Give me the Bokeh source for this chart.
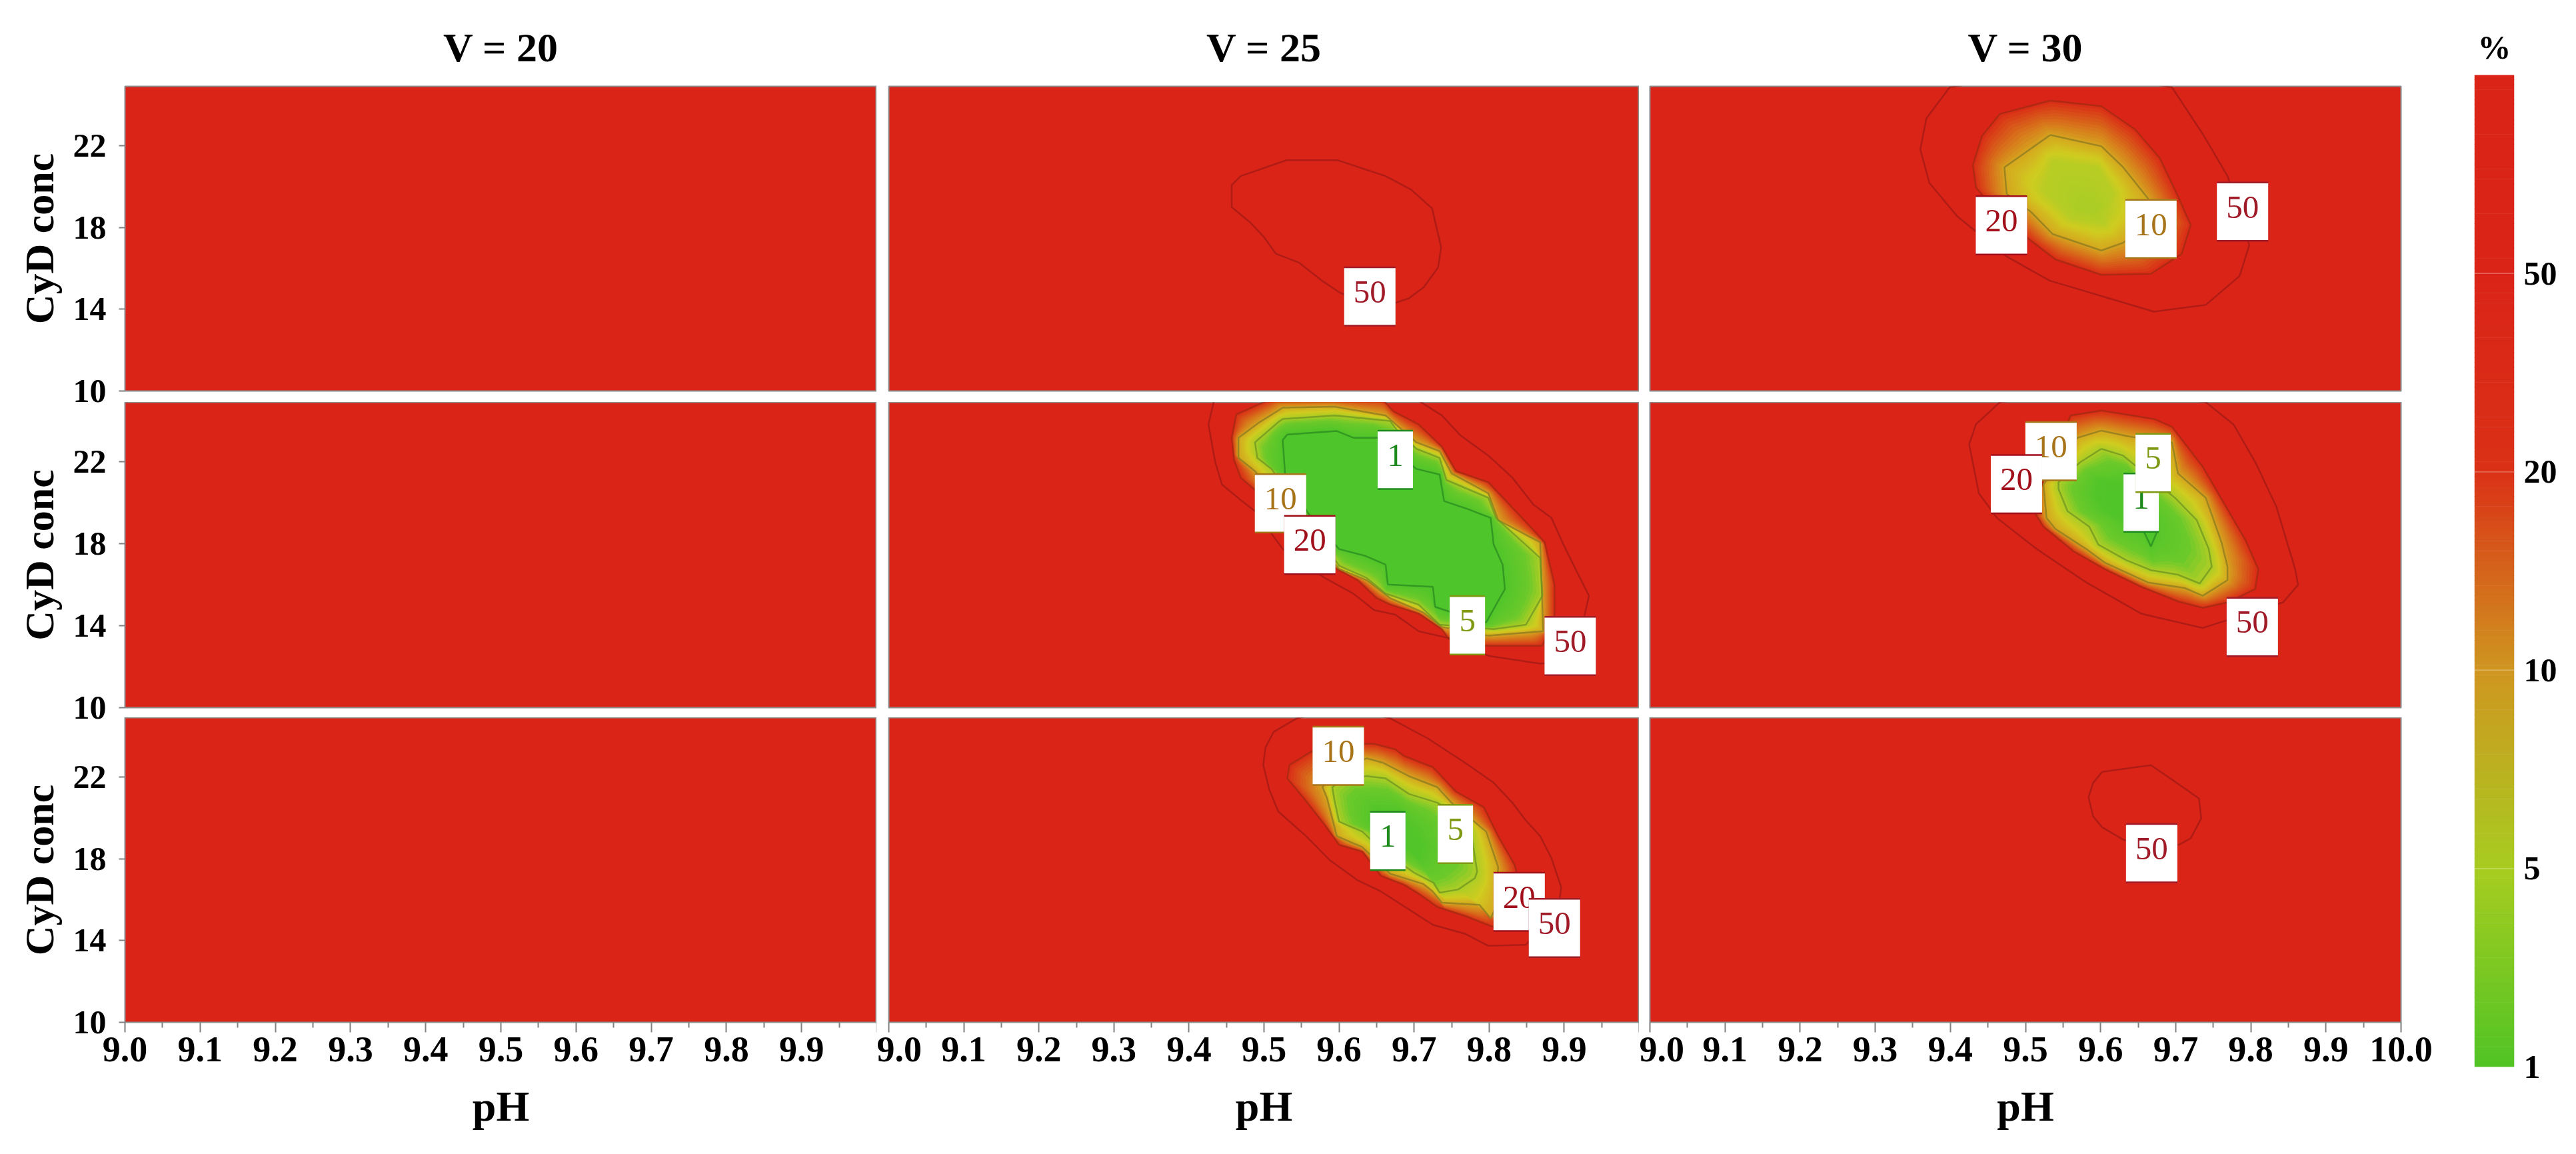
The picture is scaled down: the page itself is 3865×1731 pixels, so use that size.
import math
import numpy as np
from bokeh.embed import file_html
from bokeh.resources import INLINE
from bokeh.core.properties import value
from bokeh.layouts import column, row
from bokeh.models import FixedTicker, Label, Range1d
from bokeh.plotting import figure

VOLTAGES = [20, 25, 30]
BUFFERS = [30, 25, 20]
LEVELS = [1, 5, 10, 20, 50, 100]
BAR_COLORS = ["#50c424", "#a8cc20", "#cf9620", "#da3116", "#da2418", "#da2418"]
X_TICKS = [9.0, 9.1, 9.2, 9.3, 9.4, 9.5, 9.6, 9.7, 9.8, 9.9, 10.0]
X_MINOR = [9.05, 9.15, 9.25, 9.35, 9.45, 9.55, 9.65, 9.75, 9.85, 9.95]
Y_TICKS = [10, 14, 18, 22]

# V = 25, Buffer = 30
V25B30_L50_PH = [9.530, 9.598, 9.662, 9.696, 9.724, 9.736, 9.732, 9.713, 9.693, 9.649, 9.601, 9.577, 9.547, 9.516, 9.499, 9.482, 9.457, 9.457, 9.469]
V25B30_L50_CY = [21.29, 21.29, 20.51, 19.85, 18.93, 17.03, 16.05, 15.08, 14.53, 13.99, 14.81, 15.40, 16.27, 16.71, 17.57, 18.23, 18.99, 20.07, 20.51]
V25B30_LAB = ["50"]
V25B30_LAB_PH = [9.641]
V25B30_LAB_CY = [14.62]

# V = 30, Buffer = 20
V30B20_L50_PH = [9.602, 9.667, 9.699, 9.731, 9.734, 9.720, 9.705, 9.673, 9.630, 9.602, 9.590, 9.584, 9.590]
V30B20_L50_CY = [22.25, 22.58, 21.77, 20.95, 19.97, 19.00, 18.70, 18.35, 18.94, 19.54, 20.08, 21.01, 21.71]
V30B20_LAB = ["50"]
V30B20_LAB_PH = [9.668]
V30B20_LAB_CY = [18.27]

# V = 25, Buffer = 25
V25B25_L1_PH = [9.531, 9.597, 9.619, 9.653, 9.703, 9.734, 9.740, 9.771, 9.802, 9.806, 9.818, 9.821, 9.806, 9.796, 9.746, 9.728, 9.725, 9.665, 9.662, 9.634, 9.600, 9.559, 9.528, 9.525]
V25B25_L1_CY = [23.33, 23.50, 23.17, 23.17, 21.65, 21.38, 20.08, 19.70, 19.26, 17.96, 16.98, 15.79, 14.81, 14.16, 14.70, 14.92, 15.90, 16.01, 16.98, 17.42, 17.74, 19.48, 21.43, 23.06]
V25B25_L5_PH = [9.519, 9.525, 9.594, 9.668, 9.678, 9.703, 9.734, 9.743, 9.799, 9.809, 9.868, 9.871, 9.849, 9.806, 9.734, 9.706, 9.662, 9.637, 9.600, 9.510, 9.491, 9.488]
V25B25_L5_CY = [23.93, 24.09, 24.26, 23.99, 23.50, 22.63, 22.19, 21.11, 20.24, 19.26, 17.31, 15.46, 14.05, 13.83, 14.05, 15.03, 15.57, 16.33, 16.93, 21.65, 22.19, 22.95]
V25B25_L10_PH = [9.494, 9.525, 9.594, 9.662, 9.703, 9.734, 9.750, 9.799, 9.812, 9.868, 9.872, 9.799, 9.737, 9.712, 9.668, 9.637, 9.600, 9.488, 9.466, 9.466]
V25B25_L10_CY = [23.93, 24.64, 24.69, 24.26, 22.95, 22.52, 21.43, 20.46, 19.15, 18.07, 13.73, 13.51, 13.94, 14.65, 15.35, 16.22, 16.77, 21.54, 22.19, 23.17]
V25B25_L20_PH = [9.463, 9.500, 9.513, 9.656, 9.672, 9.706, 9.737, 9.756, 9.799, 9.855, 9.874, 9.887, 9.887, 9.871, 9.793, 9.746, 9.737, 9.706, 9.668, 9.650, 9.625, 9.597, 9.569, 9.500, 9.469, 9.460, 9.457]
V25B25_L20_CY = [24.31, 24.91, 25.13, 25.13, 24.47, 23.82, 22.74, 21.54, 21.00, 18.83, 18.07, 16.00, 14.48, 13.02, 13.02, 13.35, 13.83, 14.59, 15.03, 15.35, 16.22, 16.77, 17.53, 20.24, 21.22, 22.09, 23.17]
V25B25_L50_PH = [9.435, 9.426, 9.435, 9.444, 9.469, 9.488, 9.525, 9.581, 9.619, 9.647, 9.675, 9.706, 9.746, 9.799, 9.868, 9.918, 9.927, 9.933, 9.918, 9.899, 9.883, 9.859, 9.831, 9.799, 9.762, 9.737, 9.709, 9.687]
V25B25_L50_CY = [25.23, 23.82, 21.98, 20.89, 20.13, 19.59, 17.74, 16.33, 15.57, 14.76, 14.54, 13.73, 13.40, 12.53, 12.15, 12.31, 14.48, 15.46, 16.55, 17.96, 19.26, 19.91, 21.22, 22.30, 23.28, 24.26, 24.91, 25.34]
V25B25_LAB = ["1", "10", "20", "5", "50"]
V25B25_LAB_PH = [9.675, 9.522, 9.561, 9.771, 9.908]
V25B25_LAB_CY = [22.09, 19.97, 17.94, 14.02, 13.01]

# V = 25, Buffer = 20
V25B20_L1_PH = [9.650, 9.681, 9.712, 9.706, 9.675, 9.647]
V25B20_L1_CY = [20.41, 20.31, 18.68, 18.03, 19.00, 19.76]
V25B20_L5_PH = [9.637, 9.662, 9.693, 9.731, 9.774, 9.784, 9.781, 9.759, 9.734, 9.726, 9.700, 9.656, 9.631, 9.600, 9.594, 9.591, 9.606]
V25B20_L5_CY = [22.04, 21.93, 21.17, 20.74, 19.76, 17.37, 17.05, 16.50, 16.34, 16.83, 17.32, 18.46, 19.33, 19.82, 20.85, 21.50, 21.93]
V25B20_L10_PH = [9.637, 9.659, 9.693, 9.731, 9.750, 9.796, 9.812, 9.809, 9.802, 9.787, 9.737, 9.725, 9.712, 9.668, 9.631, 9.597, 9.584, 9.578, 9.594]
V25B20_L10_CY = [22.91, 22.69, 22.04, 21.50, 20.74, 19.33, 17.59, 15.64, 15.09, 15.75, 15.85, 16.40, 16.77, 17.27, 18.57, 19.11, 20.96, 21.50, 22.37]
V25B20_L20_PH = [9.647, 9.675, 9.687, 9.725, 9.756, 9.793, 9.812, 9.834, 9.837, 9.843, 9.806, 9.768, 9.731, 9.706, 9.687, 9.656, 9.631, 9.600, 9.581, 9.553, 9.531, 9.534, 9.563, 9.619]
V25B20_L20_CY = [23.62, 23.35, 23.02, 22.48, 21.28, 20.52, 19.11, 17.70, 17.27, 15.75, 14.66, 15.20, 15.64, 16.29, 16.72, 17.16, 18.35, 18.68, 19.65, 20.96, 21.93, 22.59, 23.24, 23.62]
V25B20_L50_PH = [9.606, 9.544, 9.513, 9.502, 9.499, 9.507, 9.519, 9.556, 9.588, 9.625, 9.656, 9.725, 9.768, 9.799, 9.849, 9.893, 9.896, 9.883, 9.868, 9.849, 9.831, 9.806, 9.768, 9.718, 9.668]
V25B20_L50_CY = [25.41, 24.87, 24.21, 23.45, 22.59, 21.39, 20.31, 19.11, 17.92, 16.94, 16.40, 14.77, 14.33, 13.74, 13.79, 15.75, 16.61, 18.03, 19.11, 19.87, 20.74, 21.72, 22.69, 23.89, 24.87]
V25B20_LAB = ["10", "1", "5", "20", "50"]
V25B20_LAB_PH = [9.599, 9.665, 9.755, 9.840, 9.887]
V25B20_LAB_CY = [23.03, 18.87, 19.21, 15.89, 14.61]

# V = 30, Buffer = 25
V30B25_L1_PH = [9.654, 9.671, 9.675, 9.667, 9.658, 9.642]
V30B25_L1_CY = [20.89, 20.67, 18.56, 17.87, 18.56, 19.81]
V30B25_C13_PH = [9.597, 9.646, 9.675, 9.667, 9.658, 9.605, 9.593]
V30B25_C13_CY = [21.11, 20.89, 18.56, 17.87, 18.56, 19.59, 20.35]
V30B25_L5_PH = [9.601, 9.630, 9.699, 9.728, 9.744, 9.748, 9.732, 9.703, 9.667, 9.634, 9.597, 9.585, 9.556, 9.544, 9.544, 9.573]
V30B25_L5_CY = [22.63, 22.30, 20.24, 19.15, 17.74, 16.87, 16.06, 16.49, 16.71, 17.20, 17.96, 18.83, 19.59, 20.67, 21.00, 21.98]
V30B25_L10_PH = [9.601, 9.638, 9.695, 9.703, 9.740, 9.761, 9.769, 9.769, 9.736, 9.712, 9.663, 9.605, 9.581, 9.540, 9.528, 9.524, 9.569]
V30B25_L10_CY = [23.52, 23.23, 22.95, 21.43, 20.24, 18.07, 16.87, 16.22, 15.46, 15.84, 16.11, 17.09, 17.74, 18.72, 19.26, 20.89, 23.17]
V30B25_L20_PH = [9.601, 9.671, 9.695, 9.736, 9.793, 9.810, 9.806, 9.769, 9.736, 9.703, 9.654, 9.605, 9.564, 9.524, 9.511, 9.524, 9.560]
V30B25_L20_CY = [24.50, 24.09, 23.71, 21.76, 18.17, 16.76, 15.79, 15.14, 14.87, 15.19, 15.90, 16.77, 17.63, 18.83, 19.59, 21.11, 24.26]
V30B25_L50_PH = [9.605, 9.466, 9.434, 9.425, 9.438, 9.462, 9.515, 9.581, 9.654, 9.736, 9.843, 9.863, 9.859, 9.834, 9.806, 9.777, 9.740]
V30B25_L50_CY = [25.56, 24.91, 23.82, 22.85, 20.46, 19.26, 17.74, 16.11, 14.59, 13.89, 15.14, 16.00, 16.76, 19.81, 21.98, 23.82, 24.91]
V30B25_LAB = ["10", "20", "1", "5", "50"]
V30B25_LAB_PH = [9.534, 9.488, 9.654, 9.670, 9.802]
V30B25_LAB_CY = [22.52, 20.91, 20.00, 21.94, 13.94]

# V = 30, Buffer = 30
V30B30_C52_PH = [9.577, 9.601, 9.589, 9.571]
V30B30_C52_CY = [19.26, 19.04, 18.77, 18.90]
V30B30_C6_PH = [9.536, 9.597, 9.618, 9.605, 9.560, 9.524]
V30B30_C6_CY = [21.27, 20.94, 19.64, 18.12, 18.44, 19.75]
V30B30_L10_PH = [9.533, 9.601, 9.630, 9.663, 9.671, 9.630, 9.601, 9.536, 9.507, 9.475, 9.472]
V30B30_L10_CY = [22.52, 21.97, 20.94, 19.42, 18.44, 17.25, 16.87, 17.68, 18.77, 19.64, 20.94]
V30B30_L20_PH = [9.533, 9.601, 9.646, 9.679, 9.703, 9.720, 9.708, 9.667, 9.601, 9.540, 9.507, 9.466, 9.434, 9.430, 9.442, 9.466]
V30B30_L20_CY = [24.20, 23.93, 22.79, 21.38, 19.53, 18.12, 16.71, 15.73, 15.68, 16.43, 17.36, 18.55, 19.96, 21.05, 22.46, 23.55]
V30B30_L50_PH = [9.548, 9.399, 9.368, 9.360, 9.372, 9.409, 9.474, 9.532, 9.671, 9.740, 9.785, 9.798, 9.769, 9.736, 9.695]
V30B30_L50_CY = [25.72, 24.85, 23.33, 21.81, 20.18, 18.55, 16.60, 15.40, 13.88, 14.21, 15.62, 17.14, 20.51, 22.57, 24.85]
V30B30_LAB = ["20", "10", "50"]
V30B30_LAB_PH = [9.468, 9.667, 9.789]
V30B30_LAB_CY = [18.10, 17.92, 18.77]

# (level, ph, cyd, draw the contour line) from the outermost in
PANELS = {
    (25, 30): ([(50, V25B30_L50_PH, V25B30_L50_CY, True)], V25B30_LAB, V25B30_LAB_PH, V25B30_LAB_CY),
    (30, 20): ([(50, V30B20_L50_PH, V30B20_L50_CY, True)], V30B20_LAB, V30B20_LAB_PH, V30B20_LAB_CY),
    (25, 25): ([(50, V25B25_L50_PH, V25B25_L50_CY, True), (20, V25B25_L20_PH, V25B25_L20_CY, True),
                (10, V25B25_L10_PH, V25B25_L10_CY, True), (5, V25B25_L5_PH, V25B25_L5_CY, True),
                (1, V25B25_L1_PH, V25B25_L1_CY, True)], V25B25_LAB, V25B25_LAB_PH, V25B25_LAB_CY),
    (25, 20): ([(50, V25B20_L50_PH, V25B20_L50_CY, True), (20, V25B20_L20_PH, V25B20_L20_CY, True),
                (10, V25B20_L10_PH, V25B20_L10_CY, True), (5, V25B20_L5_PH, V25B20_L5_CY, True),
                (1.3, V25B20_L1_PH, V25B20_L1_CY, False)], V25B20_LAB, V25B20_LAB_PH, V25B20_LAB_CY),
    (30, 25): ([(50, V30B25_L50_PH, V30B25_L50_CY, True), (20, V30B25_L20_PH, V30B25_L20_CY, True),
                (10, V30B25_L10_PH, V30B25_L10_CY, True), (5, V30B25_L5_PH, V30B25_L5_CY, True),
                (1.3, V30B25_C13_PH, V30B25_C13_CY, False), (1, V30B25_L1_PH, V30B25_L1_CY, True)],
               V30B25_LAB, V30B25_LAB_PH, V30B25_LAB_CY),
    (30, 30): ([(50, V30B30_L50_PH, V30B30_L50_CY, True), (20, V30B30_L20_PH, V30B30_L20_CY, True),
                (10, V30B30_L10_PH, V30B30_L10_CY, True), (6, V30B30_C6_PH, V30B30_C6_CY, False),
                (5.2, V30B30_C52_PH, V30B30_C52_CY, False)], V30B30_LAB, V30B30_LAB_PH, V30B30_LAB_CY),
}

FONT = "Liberation Serif"
RED = "#da2418"
PANEL_IDX = [0.0, 0.7, 1.0, 1.5, 2.0, 3.0, 5.0]
PANEL_COLORS = ["#4ec52a", "#6cc92a", "#a8cd26", "#d0cc20", "#d5a81f", "#da2f17", RED]
LINE_COLORS = {1: "#2a8a20", 5: "#6f9420", 10: "#8a7a20", 20: "#a02a12", 50: "#a01a14"}
LABEL_COLORS = {"1": "#1e8a1e", "5": "#7f9a12", "10": "#a8741a", "20": "#a00f1a", "50": "#a01a28"}

FRAME_W = [1128, 1126, 1127]
FRAME_H = [457, 458, 457]
LEFT = [187, 18, 16]
BOTTOM = [17, 15, 198]
OVERHANG = 30
Y_MAX = 24.9


def rgb(c):
    return [int(c[i:i + 2], 16) for i in (1, 3, 5)]


def hexc(v):
    return "#%02x%02x%02x" % tuple(int(round(a)) for a in v)


def idx_of(level):
    return float(np.interp(level, LEVELS, range(len(LEVELS))))


def blend(i, pos, colors):
    arr = np.array([rgb(c) for c in colors], float)
    return hexc([np.interp(i, pos, arr[:, k]) for k in range(3)])


def radial(xs, ys, cx, cy, n=240):
    u = (np.array(xs + xs[:1]) - cx) * 1127.0
    v = (np.array(ys + ys[:1]) - cy) * 30.7
    r = np.zeros(n)
    for k, th in enumerate(np.linspace(0, 2 * math.pi, n, endpoint=False)):
        dx, dy = math.cos(th), math.sin(th)
        best = 0.0
        for j in range(len(u) - 1):
            ex, ey = u[j + 1] - u[j], v[j + 1] - v[j]
            den = dx * ey - dy * ex
            if abs(den) < 1e-9:
                continue
            t = (u[j] * ey - v[j] * ex) / den
            s = (u[j] * dy - v[j] * dx) / den
            if t > 0 and -1e-9 <= s <= 1 + 1e-9:
                best = max(best, t)
        r[k] = best
    return r


def draw_panel(p, contours):
    inner = contours[-1]
    cx, cy = float(np.mean(inner[1])), float(np.mean(inner[2]))
    n = 240
    ang = np.linspace(0, 2 * math.pi, n, endpoint=False)
    for a, b in zip(contours[1:-1], contours[2:]):
        ca = blend(idx_of(a[0]), PANEL_IDX, PANEL_COLORS)
        p.patch(a[1], a[2], fill_color=ca, line_color=ca)
        ra, rb = radial(a[1], a[2], cx, cy, n), radial(b[1], b[2], cx, cy, n)
        ia, ib = idx_of(a[0]), idx_of(b[0])
        steps = 12
        xs, ys, cols = [], [], []
        for k in range(1, steps):
            t = k / steps
            rr = (1 - t) * ra + t * rb
            xs.append(list(cx + rr * np.cos(ang) / 1127.0))
            ys.append(list(cy + rr * np.sin(ang) / 30.7))
            cols.append(blend((1 - t) * ia + t * ib, PANEL_IDX, PANEL_COLORS))
        p.patches(xs, ys, fill_color=cols, line_color=cols, line_width=1)
    if len(contours) > 1:
        ci = blend(idx_of(inner[0]), PANEL_IDX, PANEL_COLORS)
        p.patch(inner[1], inner[2], fill_color=ci, line_color=ci)
    for lev, xs, ys, show in contours:
        if show:
            p.line(xs + xs[:1], ys + ys[:1], line_color=LINE_COLORS[lev], line_width=2.5, line_alpha=0.75)


def draw_labels(p, texts, xs, ys):
    for t, x, y in zip(texts, xs, ys):
        w = 53 if len(t) == 1 else 77
        col = LABEL_COLORS[t]
        p.rect([x], [y], width=w, height=90, width_units="screen", height_units="screen",
               fill_color=col, line_color=None)
        p.rect([x], [y], width=w, height=85, width_units="screen", height_units="screen",
               fill_color="white", line_color=None)
        p.text([x], [y], text=[t], text_font=value(FONT), text_font_size="49px", text_color=col,
               text_align="center", text_baseline="middle", y_offset=-7)


rows = []
for ri, buf in enumerate(BUFFERS):
    cells = []
    for ci, volt in enumerate(VOLTAGES):
        extra = OVERHANG if ri < 2 else 0
        p = figure(frame_width=FRAME_W[ci], frame_height=FRAME_H[ri], x_range=Range1d(9.0, 10.0),
                   y_range=Range1d(10, Y_MAX), toolbar_location=None, output_backend="svg",
                   min_border_left=LEFT[ci], min_border_right=100 if ci == 2 else 0,
                   min_border_top=129 if ri == 0 else 0, min_border_bottom=BOTTOM[ri] + extra,
                   margin=(0, 0, -extra, 0),
                   background_fill_color=RED, border_fill_color=None)
        p.grid.visible = False
        p.outline_line_color = "#8e8e8e"
        p.outline_line_width = 2

        if (volt, buf) in PANELS:
            contours, texts, lx, ly = PANELS[(volt, buf)]
            draw_panel(p, contours)
            draw_labels(p, texts, lx, ly)

        if ri == 0:
            p.title.text = "V = %d" % volt
            p.title.align = "center"
            p.title.text_font = FONT
            p.title.text_font_style = "bold"
            p.title.text_font_size = "62px"
            p.title.text_color = "black"
            p.title.standoff = 49

        if ri == 2:
            p.xaxis.ticker = FixedTicker(ticks=X_TICKS, minor_ticks=X_MINOR)
            over = {t: "%.1f" % t for t in X_TICKS}
            if ci < 2:
                over[10.0] = ""
            p.xaxis.major_label_overrides = over
            p.xaxis.axis_label = "pH"
            p.xaxis.axis_label_text_font = FONT
            p.xaxis.axis_label_text_font_style = "bold"
            p.xaxis.axis_label_text_font_size = "64px"
            p.xaxis.axis_label_text_color = "black"
            p.xaxis.axis_label_standoff = 29
            p.xaxis.major_label_text_font = FONT
            p.xaxis.major_label_text_font_style = "bold"
            p.xaxis.major_label_text_font_size = "54px"
            p.xaxis.major_label_text_color = "black"
            p.xaxis.major_label_standoff = 7
            p.xaxis.major_tick_out = 15
            p.xaxis.major_tick_in = 0
            p.xaxis.minor_tick_out = 8
            p.xaxis.minor_tick_in = 0
            p.xaxis.major_tick_line_color = "#808080"
            p.xaxis.minor_tick_line_color = "#808080"
            p.xaxis.major_tick_line_width = 2
            p.xaxis.minor_tick_line_width = 2
            p.xaxis.axis_line_color = None
        else:
            p.xaxis.visible = False

        if ci == 0:
            p.yaxis.ticker = FixedTicker(ticks=Y_TICKS)
            p.yaxis.axis_label = "CyD conc"
            p.yaxis.axis_label_text_font = FONT
            p.yaxis.axis_label_text_font_style = "bold"
            p.yaxis.axis_label_text_font_size = "62px"
            p.yaxis.axis_label_text_color = "black"
            p.yaxis.axis_label_standoff = 14
            p.yaxis.major_label_text_font = FONT
            p.yaxis.major_label_text_font_style = "bold"
            p.yaxis.major_label_text_font_size = "50px"
            p.yaxis.major_label_text_color = "black"
            p.yaxis.major_label_standoff = 19
            p.yaxis.major_label_orientation = "horizontal"
            p.yaxis.major_tick_out = 9
            p.yaxis.major_tick_in = 0
            p.yaxis.minor_tick_out = 0
            p.yaxis.minor_tick_in = 0
            p.yaxis.major_tick_line_color = "#808080"
            p.yaxis.major_tick_line_width = 2
            p.yaxis.axis_line_color = None
        else:
            p.yaxis.visible = False

        if ci == 2:
            p.add_layout(Label(x=10.05, y=Y_MAX - 0.1, text="Buffer conc = %d" % buf, angle=math.pi / 2,
                               angle_units="rad", text_align="right", text_baseline="middle",
                               text_font=FONT, text_font_style="bold", text_font_size="61px",
                               text_color="black"))
        cells.append(p)
    rows.append(row(*cells, spacing=0))

grid = column(*rows, spacing=0)

cb = figure(frame_width=60, frame_height=1488, x_range=Range1d(0, 1), y_range=Range1d(0, 5),
            toolbar_location=None, output_backend="svg", y_axis_location="right",
            min_border_left=10, min_border_right=88, min_border_top=112, min_border_bottom=131,
            border_fill_color=None)
cb.grid.visible = False
cb.xaxis.visible = False
cb.outline_line_color = None
steps = np.linspace(0, 5, 201)
bar_pos = list(range(len(LEVELS)))
cb.quad(left=0, right=1, bottom=steps[:-1], top=steps[1:] + 0.002,
        fill_color=[blend(s + 0.0125, bar_pos, BAR_COLORS) for s in steps[:-1]], line_color=None)
tick_pos = bar_pos[:-1]
cb.segment(x0=0, x1=1, y0=tick_pos[1:], y1=tick_pos[1:], line_color="white", line_alpha=0.25, line_width=2)
cb.yaxis.ticker = FixedTicker(ticks=tick_pos)
cb.yaxis.major_label_overrides = {i: str(LEVELS[i]) for i in tick_pos}
cb.yaxis.major_label_text_font = FONT
cb.yaxis.major_label_text_font_style = "bold"
cb.yaxis.major_label_text_font_size = "50px"
cb.yaxis.major_label_text_color = "black"
cb.yaxis.major_label_standoff = 14
cb.yaxis.major_label_orientation = "horizontal"
cb.yaxis.major_tick_out = 0
cb.yaxis.major_tick_in = 0
cb.yaxis.minor_tick_out = 0
cb.yaxis.minor_tick_in = 0
cb.yaxis.axis_line_color = None
cb.title.text = "%"
cb.title.align = "center"
cb.title.text_font = FONT
cb.title.text_font_style = "bold"
cb.title.text_font_size = "50px"
cb.title.text_color = "black"
cb.title.standoff = 28

layout = row(grid, cb, spacing=0)
open("out.html", "w").write(file_html(layout, INLINE))
